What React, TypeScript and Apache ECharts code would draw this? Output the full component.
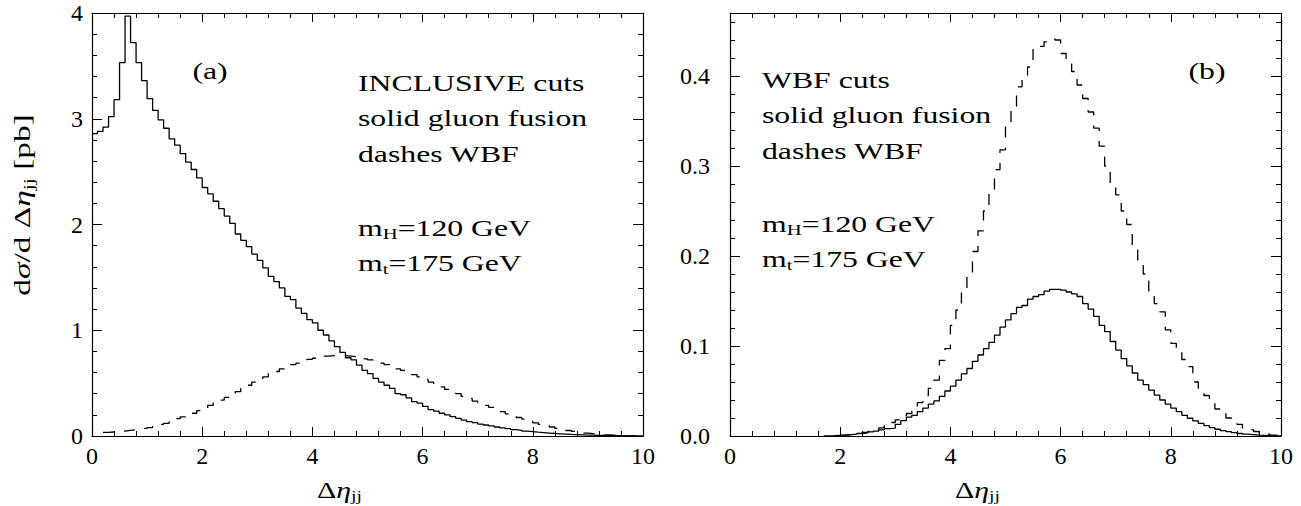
import React, { useEffect, useRef } from "react";
import * as echarts from "echarts";

const BIN = 0.1;

// Panel (a): INCLUSIVE cuts — gluon fusion (solid) and WBF (dashed), bins of 0.1
const incGluonStart = 0.0;
const incGluon = [
  2.86, 2.88, 2.92, 3.02, 3.18, 3.53, 3.97, 3.72, 3.53, 3.36,
  3.19, 3.08, 2.99, 2.91, 2.81, 2.75, 2.67, 2.59, 2.52, 2.44,
  2.35, 2.29, 2.22, 2.15, 2.08, 2.01, 1.91, 1.85, 1.79, 1.72,
  1.66, 1.59, 1.51, 1.46, 1.40, 1.32, 1.29, 1.21, 1.16, 1.10,
  1.07, 1.00, 0.955, 0.90, 0.845, 0.79, 0.74, 0.72, 0.67, 0.62,
  0.59, 0.545, 0.51, 0.48, 0.45, 0.40, 0.39, 0.36, 0.325, 0.31,
  0.28, 0.25, 0.236, 0.215, 0.20, 0.183, 0.167, 0.151, 0.135, 0.126,
  0.113, 0.104, 0.095, 0.085, 0.076, 0.069, 0.06, 0.054, 0.047, 0.041,
  0.036, 0.032, 0.028, 0.024, 0.021, 0.018, 0.015, 0.013, 0.011, 0.009,
  0.008, 0.006, 0.005, 0.004, 0.003, 0.003, 0.002, 0.002, 0.001, 0.001,
];
const incWbfStart = 0.2;
const incWbf = [
  0.035, 0.038, 0.042, 0.047, 0.053, 0.059, 0.065, 0.072, 0.08, 0.10,
  0.11, 0.12, 0.135, 0.165, 0.18, 0.195, 0.215, 0.24, 0.265, 0.29,
  0.315, 0.34, 0.365, 0.395, 0.42, 0.45, 0.48, 0.51, 0.535, 0.56,
  0.59, 0.61, 0.635, 0.655, 0.675, 0.69, 0.71, 0.725, 0.735, 0.745,
  0.755, 0.76, 0.762, 0.76, 0.755, 0.75, 0.742, 0.73, 0.72, 0.705,
  0.69, 0.675, 0.655, 0.635, 0.62, 0.60, 0.58, 0.56, 0.535, 0.51,
  0.49, 0.465, 0.44, 0.42, 0.40, 0.375, 0.355, 0.33, 0.31, 0.29,
  0.27, 0.25, 0.23, 0.21, 0.19, 0.175, 0.16, 0.14, 0.125, 0.11,
  0.097, 0.085, 0.073, 0.062, 0.052, 0.043, 0.035, 0.028, 0.022, 0.017,
  0.013, 0.01, 0.007, 0.005, 0.003, 0.002, 0.001,
];

// Panel (b): WBF cuts
const wbfGluonStart = 1.7;
const wbfGluon = [
  0.0002, 0.0004, 0.0007, 0.001, 0.0015, 0.002, 0.0028, 0.0035, 0.0045, 0.0055,
  0.0067, 0.0082, 0.0088, 0.013, 0.017, 0.021, 0.023, 0.027, 0.031, 0.0355,
  0.039, 0.044, 0.05, 0.0555, 0.062, 0.069, 0.075, 0.083, 0.09, 0.097,
  0.104, 0.112, 0.121, 0.129, 0.136, 0.143, 0.145, 0.152, 0.155, 0.157,
  0.161, 0.163, 0.163, 0.162, 0.16, 0.158, 0.155, 0.147, 0.141, 0.133,
  0.123, 0.116, 0.105, 0.0955, 0.086, 0.078, 0.07, 0.062, 0.057, 0.051,
  0.0455, 0.04, 0.0355, 0.031, 0.027, 0.023, 0.0197, 0.0167, 0.014, 0.0115,
  0.0093, 0.0075, 0.006, 0.0048, 0.0037, 0.0028, 0.002, 0.0015, 0.001, 0.0007,
  0.0004, 0.0002, 0.0001,
];
const wbfWbfStart = 2.0;
const wbfWbf = [
  0.001, 0.0015, 0.002, 0.003, 0.004, 0.005, 0.007, 0.009, 0.012, 0.015,
  0.018, 0.021, 0.025, 0.029, 0.037, 0.045, 0.053, 0.062, 0.084, 0.097,
  0.123, 0.14, 0.16, 0.18, 0.205, 0.228, 0.25, 0.272, 0.296, 0.318,
  0.344, 0.364, 0.388, 0.4, 0.41, 0.43, 0.433, 0.438, 0.441, 0.44,
  0.425, 0.418, 0.405, 0.39, 0.375, 0.36, 0.342, 0.322, 0.3, 0.278,
  0.268, 0.25, 0.235, 0.208, 0.195, 0.18, 0.16, 0.147, 0.138, 0.118,
  0.103, 0.095, 0.085, 0.077, 0.06, 0.052, 0.045, 0.04, 0.03, 0.025,
  0.02, 0.016, 0.013, 0.009, 0.007, 0.005, 0.003, 0.002, 0.001, 0.0005,
];

const leftNotes = ["INCLUSIVE cuts", "solid gluon fusion", "dashes WBF"];
const rightNotes = ["WBF cuts", "solid gluon fusion", "dashes WBF"];

const FONT = "'Liberation Serif', 'DejaVu Serif', serif";
const SX = 1.38;

const hist = (start: number, vals: number[]) => {
  const pts = vals.map((v, i) => [+(start + i * BIN).toFixed(2), v]);
  pts.push([+(start + vals.length * BIN).toFixed(2), vals[vals.length - 1]]);
  return pts;
};

const RICH = {
  n: { fontSize: 23, fontFamily: FONT, lineHeight: 28, color: "#000" },
  i: { fontSize: 23, fontFamily: FONT, fontStyle: "italic", lineHeight: 28, color: "#000" },
  s: { fontSize: 15, fontFamily: FONT, verticalAlign: "bottom", color: "#000" },
};

const txt = (x: number, y: number, text: string, opts: any = {}) => ({
  type: "text",
  x,
  y,
  scaleX: opts.scaleX ?? SX,
  rotation: opts.rotation ?? 0,
  silent: true,
  style: {
    text,
    fill: "#000",
    fontFamily: FONT,
    fontSize: 23,
    align: opts.align ?? "left",
    textAlign: opts.align ?? "left",
    verticalAlign: "middle",
    textVerticalAlign: "middle",
    rich: RICH,
  },
});

const axLine = { color: "#000", width: 1.2 };
const tickStyle = { color: "#000", width: 1 };

const mkX = (grid: number, pos: string, labels: boolean) => ({
  type: "value",
  gridIndex: grid,
  position: pos,
  min: 0,
  max: 10,
  interval: 2,
  axisLine: { show: true, onZero: false, lineStyle: axLine },
  axisTick: { show: true, inside: true, length: 9, lineStyle: tickStyle },
  minorTick: { show: true, splitNumber: 5, length: 5, lineStyle: tickStyle },
  splitLine: { show: false },
  minorSplitLine: { show: false },
  axisLabel: { show: labels, fontFamily: FONT, fontSize: 24, color: "#000", margin: 8 },
});

const mkY = (grid: number, pos: string, max: number, interval: number, labels: boolean, tickLen: number, minor: boolean, margin: number, fmt?: any, line = true) => ({
  type: "value",
  gridIndex: grid,
  position: pos,
  min: 0,
  max,
  interval,
  axisLine: { show: line, onZero: false, lineStyle: axLine },
  axisTick: { show: true, inside: true, length: tickLen, lineStyle: tickStyle },
  minorTick: { show: minor, splitNumber: 5, length: 5, lineStyle: tickStyle },
  splitLine: { show: false },
  minorSplitLine: { show: false },
  axisLabel: { show: labels, fontFamily: FONT, fontSize: 24, color: "#000", margin, formatter: fmt },
});

const tenths = (v: number) => (Math.abs(v * 10 - Math.round(v * 10)) < 1e-6 ? v.toFixed(1) : "");

export default function App() {
  const ref = useRef<HTMLDivElement>(null);
  useEffect(() => {
    if (!ref.current) return;
    const chart = echarts.init(ref.current, null, { renderer: "svg" });
    const solid = { color: "#000", width: 1.3 };
    const dashed = { color: "#000", width: 1.3, type: [11, 10] };
    const line = (xi: number, yi: number, data: any, ls: any) => ({
      type: "line",
      xAxisIndex: xi,
      yAxisIndex: yi,
      data,
      step: "end",
      symbol: "none",
      showSymbol: false,
      silent: true,
      lineStyle: ls,
    });
    const graphic: any[] = [
      txt(210, 71, "{n|(a)}", { align: "center" }),
      txt(1207, 71, "{n|(b)}", { align: "center" }),
      ...leftNotes.map((t, k) => txt(358, [83, 118, 154][k], `{n|${t}}`)),
      txt(358, 228, "{n|m}{s|H}{n|=120 GeV}"),
      txt(358, 263, "{n|m}{s|t}{n|=175 GeV}"),
      ...rightNotes.map((t, k) => txt(762, [80, 115, 151][k], `{n|${t}}`)),
      txt(762, 224, "{n|m}{s|H}{n|=120 GeV}"),
      txt(762, 259, "{n|m}{s|t}{n|=175 GeV}"),
      txt(317, 490, "{n|Δ}{i|η}{s|jj}", { scaleX: 1.3 }),
      txt(955, 490, "{n|Δ}{i|η}{s|jj}", { scaleX: 1.3 }),
      txt(22, 205, "{n|d}{i|σ}{n|/d Δ}{i|η}{s|jj}{n| [pb]}", { align: "center", rotation: Math.PI / 2, scaleX: 1.45 }),
    ];
    chart.setOption({
      animation: false,
      backgroundColor: "#fff",
      grid: [
        { left: 92, top: 13, width: 551, height: 423 },
        { left: 730, top: 13, width: 551, height: 423 },
      ],
      xAxis: [mkX(0, "bottom", true), mkX(0, "top", false), mkX(1, "bottom", true), mkX(1, "top", false)],
      yAxis: [
        mkY(0, "left", 4, 1, true, 10, true, 9),
        mkY(0, "right", 4, 1, false, 10, true, 9),
        mkY(1, "left", 0.47, 0.1, true, 10, false, 20, tenths),
        mkY(1, "left", 0.47, 0.02, false, 5, false, 8, undefined, false),
        mkY(1, "right", 0.47, 0.1, false, 10, false, 8),
        mkY(1, "right", 0.47, 0.02, false, 5, false, 8, undefined, false),
      ],
      series: [
        line(0, 0, hist(incGluonStart, incGluon), solid),
        line(0, 0, hist(incWbfStart, incWbf), dashed),
        line(2, 2, hist(wbfGluonStart, wbfGluon), solid),
        line(2, 2, hist(wbfWbfStart, wbfWbf), dashed),
      ],
      graphic,
    });
    return () => chart.dispose();
  }, []);
  return (
    <div
      ref={ref}
      style={{ position: "absolute", left: 0, top: 0, width: 1301, height: 506, background: "#fff" }}
    />
  );
}
